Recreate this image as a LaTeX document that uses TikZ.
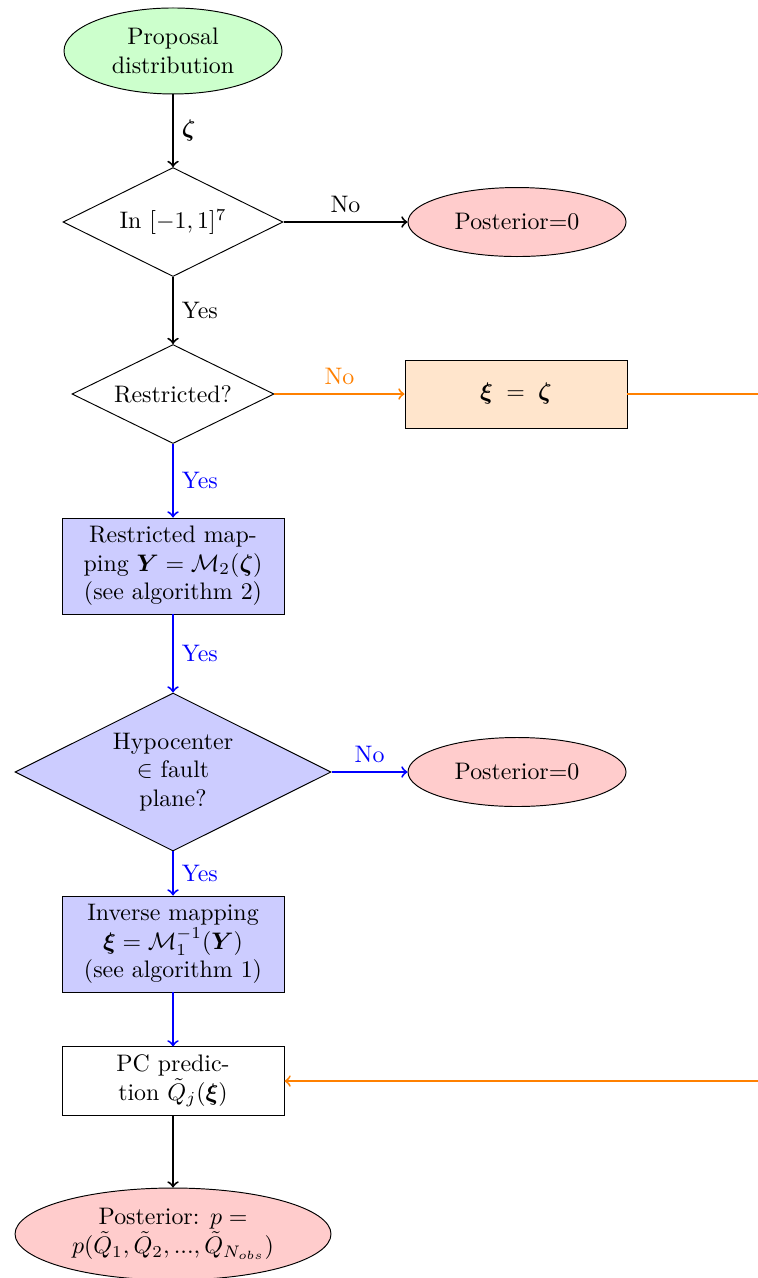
\documentclass[tikz,border=0pt]{standalone}
\usepackage{amsmath,amssymb}
\usetikzlibrary{shapes.geometric}
\begin{document}
\begin{tikzpicture}
[startdecorate/.style={shape=ellipse,draw,fill=green!20,align=center,inner sep=1pt},%
  enddecorate/.style={shape=ellipse,draw,fill=red!20,align=center,inner sep=1pt},%
  testdecorate/.style={shape=diamond,draw,aspect=2,align=center,inner sep=0pt},%
  blockdecorate/.style={shape=rectangle,draw,align=center,minimum width=3.266cm},%
  linedecorate/.style={->,thick},%
  orangedecorate/.style={->,thick,orange},%
  bluedecorate/.style={->,thick,blue}]
\useasboundingbox (0,0) rectangle (11.136,-18.799);
%% nodes or vertices
\node (proposal) at (2.545,-0.750) [startdecorate,minimum width=3.207cm,minimum height=1.265cm]
  {Proposal\\distribution};
\node (incube) at (2.545,-3.266) [testdecorate,minimum width=3.236cm,minimum height=1.603cm]
  {In $[-1,1]^7$};
\node (zeroa) at (7.605,-3.266) [enddecorate,minimum width=3.207cm,minimum height=1.015cm]
  {Posterior=0};
\node (restricted) at (2.545,-5.796) [testdecorate,minimum width=2.971cm,minimum height=1.456cm]
  {Restricted?};
\node (identity) at (7.590,-5.796) [blockdecorate,fill=orange!20,minimum height=1.0cm]
  {$\boldsymbol{\xi}\;=\;\boldsymbol{\zeta}$};
\node (mapY) at (2.545,-8.326) [blockdecorate,fill=blue!20,minimum height=1.412cm]
  {Restricted map-\\ping $\boldsymbol{Y}=\mathcal{M}_2(\boldsymbol{\zeta})$\\(see algorithm 2)};
\node (hypo) at (2.545,-11.356) [testdecorate,fill=blue!20,minimum width=4.648cm,minimum height=2.324cm]
  {Hypocenter\\$\in$ fault\\plane?};
\node (zerob) at (7.605,-11.356) [enddecorate,minimum width=3.207cm,minimum height=1.015cm]
  {Posterior=0};
\node (invmap) at (2.545,-13.886) [blockdecorate,fill=blue!20,minimum height=1.412cm]
  {Inverse mapping\\$\boldsymbol{\xi}=\mathcal{M}_1^{-1}(\boldsymbol{Y})$\\(see algorithm 1)};
\node (pcpred) at (2.545,-15.902) [blockdecorate,minimum height=1.0cm]
  {PC predic-\\tion $\tilde{Q}_j(\boldsymbol{\xi})$};
\node (posterior) at (2.545,-18.152) [enddecorate,minimum width=4.648cm,minimum height=1.353cm]
  {Posterior: $p=$\\$p(\tilde{Q}_1,\tilde{Q}_2,...,\tilde{Q}_{N_{obs}})$};
\coordinate (turna) at (11.18,-5.796);
\coordinate (turnb) at (11.18,-15.902);
%% edges or lines
\path
  (proposal) edge[linedecorate] node[right] {$\boldsymbol{\zeta}$} (incube)
  (incube) edge[linedecorate] node[above] {No} (zeroa)
  (incube) edge[linedecorate] node[right] {Yes} (restricted)
  (restricted) edge[orangedecorate] node[above] {No} (identity)
  (restricted) edge[bluedecorate] node[right] {Yes} (mapY)
  (mapY) edge[bluedecorate] node[right] {Yes} (hypo)
  (hypo) edge[bluedecorate] node[above] {No} (zerob)
  (hypo) edge[bluedecorate] node[right] {Yes} (invmap)
  (invmap) edge[bluedecorate] (pcpred)
  (pcpred) edge[linedecorate] (posterior);
\draw[orangedecorate] (identity.east) -- (turna) -- (turnb) -- (pcpred.east);
\end{tikzpicture}
\end{document}
